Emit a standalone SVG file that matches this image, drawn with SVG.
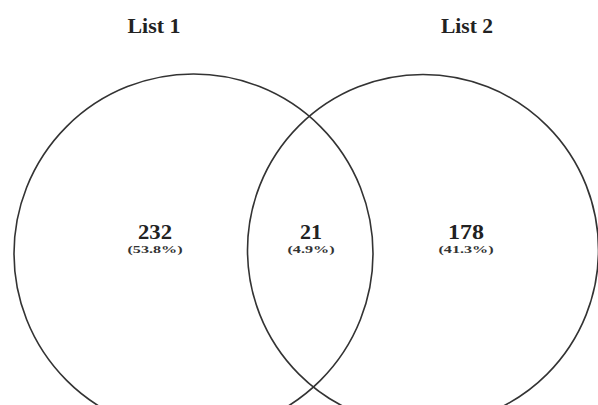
<svg xmlns="http://www.w3.org/2000/svg" width="598" height="405" viewBox="0 0 598 405">
<style>
.c{fill:none;stroke:#333;stroke-width:1.6}
.t{font-family:"Liberation Serif",serif;font-weight:bold;fill:#222;text-anchor:middle}
.h{font-size:21px}
.n{font-size:20px}
.p{font-size:11px;fill:#333}
</style>
<rect width="598" height="405" fill="#fff"/>
<g id="list1">
<circle class="c" cx="193.5" cy="253.5" r="179.5"/>
<text class="t h" x="154" y="33" textLength="53" lengthAdjust="spacingAndGlyphs">List 1</text>
</g>
<g id="list2">
<circle class="c" cx="423" cy="250" r="175.5"/>
<text class="t h" x="467" y="33" textLength="52" lengthAdjust="spacingAndGlyphs">List 2</text>
</g>
<g id="only1">
<text class="t n" x="155" y="239" textLength="34" lengthAdjust="spacingAndGlyphs">232</text>
<text class="t p" x="155" y="253" textLength="55" lengthAdjust="spacingAndGlyphs">(53.8%)</text>
</g>
<g id="both">
<text class="t n" x="311" y="239" textLength="22" lengthAdjust="spacingAndGlyphs">21</text>
<text class="t p" x="311" y="253" textLength="47" lengthAdjust="spacingAndGlyphs">(4.9%)</text>
</g>
<g id="only2">
<text class="t n" x="466" y="239" textLength="36" lengthAdjust="spacingAndGlyphs">178</text>
<text class="t p" x="466" y="253" textLength="55" lengthAdjust="spacingAndGlyphs">(41.3%)</text>
</g>
<g id="connectors"></g>
</svg>
